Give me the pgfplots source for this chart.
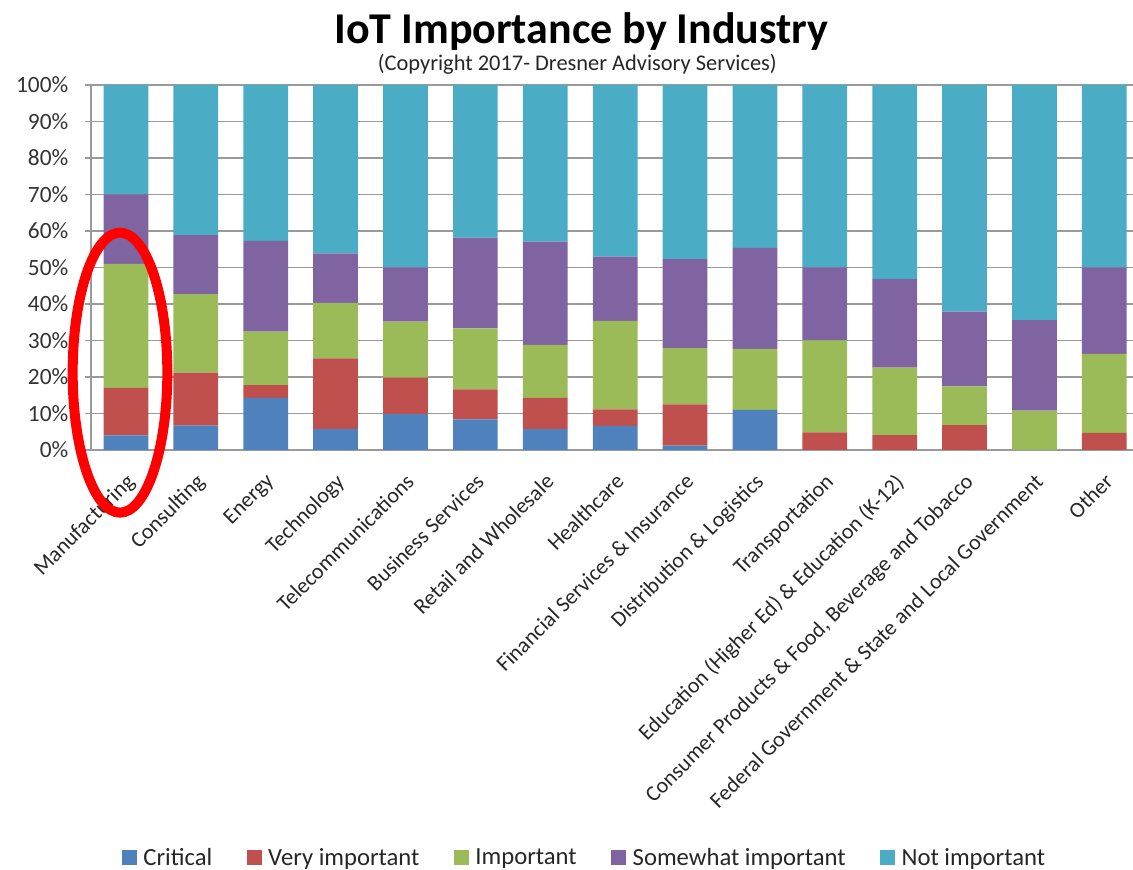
\documentclass[border=0pt]{standalone}
\usepackage{pgfplots}
\pgfplotsset{compat=1.18}
\usepackage{pgfplotstable}
\usepackage{fontspec}
\setmainfont{Carlito}

\definecolor{critC}{HTML}{4F81BD}
\definecolor{veryC}{HTML}{C0504D}
\definecolor{impC}{HTML}{9BBB59}
\definecolor{someC}{HTML}{8064A2}
\definecolor{notC}{HTML}{4BACC6}
\definecolor{gridC}{HTML}{9A9A9A}

% share of respondents per industry, in percent
\pgfplotstableread{
x  crit  vi    imp   sw    ni
0  4.0   13.0  34.0  19.0  30.0
1  6.7   14.5  21.5  16.2  41.1
2  14.3  3.5   14.6  24.9  42.7
3  5.8   19.3  15.2  13.6  46.1
4  9.8   10.0  15.4  14.8  50.0
5  8.4   8.2   16.7  24.9  41.8
6  5.7   8.6   14.5  28.3  42.9
7  6.6   4.5   24.3  17.6  47.0
8  1.2   11.3  15.4  24.4  47.7
9  11.0  0.0   16.7  27.7  44.6
10 0.0   4.8   25.2  20.0  50.0
11 0.0   4.1   18.5  24.2  53.2
12 0.0   6.8   10.6  20.5  62.1
13 0.0   0.0   10.8  24.8  64.4
14 0.0   4.7   21.6  23.7  50.0
}\iotdata

\begin{document}
\begin{tikzpicture}
\path[use as bounding box] (0pt,0pt) rectangle (849.75pt,652.5pt);

\begin{axis}[
  at={(68.25pt,315pt)}, anchor=south west,
  scale only axis,
  width=781.5pt, height=273.75pt,
  ybar stacked,
  bar width=0.64,
  xmin=-0.5, xmax=14.41,
  ymin=0, ymax=100,
  axis x line*=bottom,
  axis y line*=left,
  axis line style={gridC, line width=0.9pt},
  ymajorgrids,
  major grid style={gridC, line width=0.9pt},
  ytick={0,10,...,100},
  yticklabel={\pgfmathprintnumber{\tick}\%},
  /pgf/number format/assume math mode=true,
  tick align=outside,
  major tick length=4.5pt,
  ytick style={gridC, line width=0.9pt},
  xtick={0,...,14},
  xtick style={draw=none},
  xticklabels={Manufacturing, Consulting, Energy, Technology, Telecommunications,
    Business Services, Retail and Wholesale, Healthcare,
    {Financial Services \& Insurance}, {Distribution \& Logistics}, Transportation,
    {Education (Higher Ed) \& Education (K-12)},
    {Consumer Products \& Food, Beverage and Tobacco},
    {Federal Government \& State and Local Government}, Other},
  yticklabel style={font=\fontsize{17.5}{20}\selectfont, text=black!80, xshift=-9pt},
  xticklabel style={font=\fontsize{16.5}{19}\selectfont, text=black!85,
    rotate=45, anchor=north east, inner sep=1pt, xshift=-8pt, yshift=-7pt},
  legend columns=5,
  legend style={at={(0.474,-1.118)}, anchor=center, draw=none, fill=none,
    font=\fontsize{18.5}{21}\selectfont, text=black!85,
    /tikz/every odd column/.append style={column sep=3pt},
    /tikz/every even column/.append style={column sep=24pt}},
  legend image code/.code={\fill[#1] (0pt,-5pt) rectangle (11pt,6pt);},
]
\addplot[fill=critC, draw=none] table[x=x, y=crit]{\iotdata};
\addplot[fill=veryC, draw=none] table[x=x, y=vi]{\iotdata};
\addplot[fill=impC,  draw=none] table[x=x, y=imp]{\iotdata};
\addplot[fill=someC, draw=none] table[x=x, y=sw]{\iotdata};
\addplot[fill=notC,  draw=none] table[x=x, y=ni]{\iotdata};
\legend{Critical, Very important, Important, Somewhat important, Not important}
\end{axis}

\node[font=\fontsize{33}{38}\bfseries\selectfont] at (436pt,629pt) {IoT Importance by Industry};
\node[font=\fontsize{16.8}{19}\selectfont, text=black!85] at (433pt,604pt) {(Copyright 2017- Dresner Advisory Services)};

% red highlight round the first bar
\draw[red, line width=7.5pt] (90pt,373pt) ellipse [x radius=35.5pt, y radius=105pt];
\end{tikzpicture}
\end{document}
